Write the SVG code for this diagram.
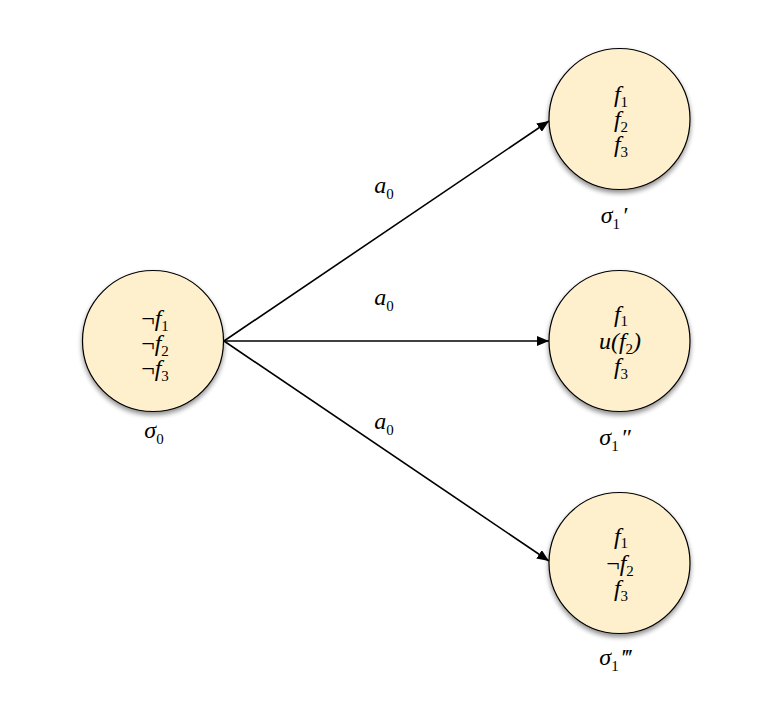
<svg xmlns="http://www.w3.org/2000/svg" width="773" height="709" viewBox="0 0 773 709">
<defs>
<filter id="sh" x="-20%" y="-20%" width="140%" height="150%">
<feGaussianBlur in="SourceAlpha" stdDeviation="2.5"/>
<feOffset dx="0" dy="3" result="b"/>
<feComponentTransfer><feFuncA type="linear" slope="0.45"/></feComponentTransfer>
<feMerge><feMergeNode/><feMergeNode in="SourceGraphic"/></feMerge>
</filter>
<marker id="ah" markerWidth="12" markerHeight="10" refX="12" refY="5" orient="auto" markerUnits="userSpaceOnUse">
<path d="M0,0 L12,5 L0,10 Z" fill="#000"/>
</marker>
</defs>
<style>
.node{fill:#FEF0CD;stroke:#000;stroke-width:1.2;filter:url(#sh)}
.t{font-family:'Liberation Serif','Times New Roman',serif;font-size:24px;font-style:italic;text-anchor:middle;fill:#000}
.n{font-style:normal}
.s{font-size:15px;font-style:normal}
.edge{stroke:#000;stroke-width:1.6;fill:none;marker-end:url(#ah)}
</style>
<rect width="773" height="709" fill="#fff"/>
<g id="connectors">
<line class="edge" x1="224" y1="341" x2="549" y2="121"/>
<line class="edge" x1="224" y1="341" x2="549" y2="341"/>
<line class="edge" x1="224" y1="341" x2="549" y2="561"/>
<text class="t" x="384" y="193">a<tspan class="s" dy="6">0</tspan></text>
<text class="t" x="384" y="305">a<tspan class="s" dy="6">0</tspan></text>
<text class="t" x="384" y="429">a<tspan class="s" dy="6">0</tspan></text>
</g>
<g id="s0">
<circle class="node" cx="153" cy="341" r="70.5"/>
<text class="t"><tspan x="155" y="326"><tspan class="n">¬</tspan>f<tspan class="s" dy="5">1</tspan></tspan><tspan x="155" y="351"><tspan class="n">¬</tspan>f<tspan class="s" dy="5">2</tspan></tspan><tspan x="155" y="376"><tspan class="n">¬</tspan>f<tspan class="s" dy="5">3</tspan></tspan></text>
<text class="t" x="154" y="438">σ<tspan class="s" dy="6">0</tspan></text>
</g>
<g id="s1a">
<circle class="node" cx="619.5" cy="119" r="70.5"/>
<text class="t"><tspan x="621" y="102">f<tspan class="s" dy="5">1</tspan></tspan><tspan x="621" y="127">f<tspan class="s" dy="5">2</tspan></tspan><tspan x="621" y="152">f<tspan class="s" dy="5">3</tspan></tspan></text>
<text class="t" x="614" y="223">σ<tspan class="s" dy="6">1</tspan><tspan dy="-6" dx="2">′</tspan></text>
</g>
<g id="s1b">
<circle class="node" cx="619.5" cy="341" r="70.5"/>
<text class="t"><tspan x="621" y="322">f<tspan class="s" dy="4">1</tspan></tspan><tspan x="620" y="349">u(f<tspan class="s" dy="5">2</tspan><tspan dy="-5">)</tspan></tspan><tspan x="621" y="374">f<tspan class="s" dy="5">3</tspan></tspan></text>
<text class="t" x="615" y="445">σ<tspan class="s" dy="6">1</tspan><tspan dy="-6" dx="2">″</tspan></text>
</g>
<g id="s1c">
<circle class="node" cx="619.5" cy="563" r="70.5"/>
<text class="t"><tspan x="621" y="544">f<tspan class="s" dy="4">1</tspan></tspan><tspan x="620" y="571"><tspan class="n">¬</tspan>f<tspan class="s" dy="5">2</tspan></tspan><tspan x="621" y="596">f<tspan class="s" dy="5">3</tspan></tspan></text>
<text class="t" x="615" y="665">σ<tspan class="s" dy="6">1</tspan><tspan dy="-6" dx="2">‴</tspan></text>
</g>
</svg>
